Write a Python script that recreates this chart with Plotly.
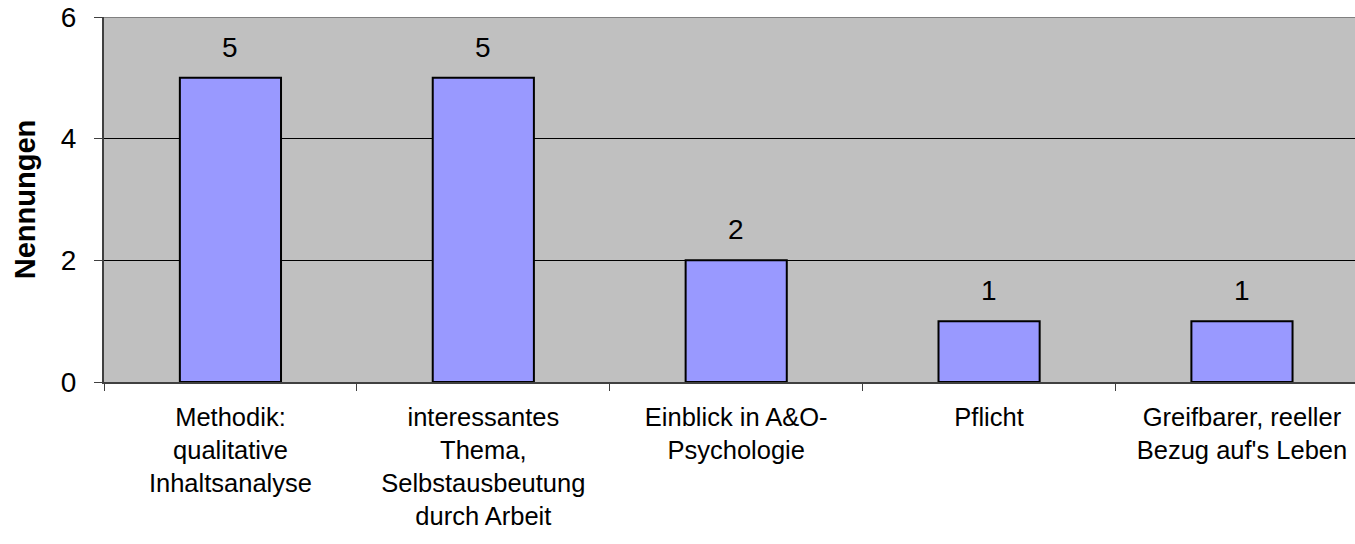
import plotly.graph_objects as go

categories = ["Methodik:<br>qualitative<br>Inhaltsanalyse",
              "interessantes<br>Thema,<br>Selbstausbeutung<br>durch Arbeit",
              "Einblick in A&O-<br>Psychologie",
              "Pflicht",
              "Greifbarer, reeller<br>Bezug auf's Leben"]
values = [5, 5, 2, 1, 1]
y_ticks = [0, 2, 4, 6]
y_title = "Nennungen"

FONT = "Liberation Sans, Arial, sans-serif"
AXC = "#404040"

xs = list(range(len(categories)))
fig = go.Figure(go.Bar(
    x=xs, y=values,
    marker=dict(color="#9999FF", line=dict(color="black", width=2)),
    width=0.4, hoverinfo="skip",
))
for x, v in zip(xs, values):
    fig.add_annotation(x=x, y=v, text=str(v), showarrow=False, yanchor="bottom",
                       yshift=13, font=dict(size=28, color="black", family=FONT))

fig.update_layout(
    width=1355, height=544,
    margin=dict(l=104, r=0, t=17, b=162),
    paper_bgcolor="white", plot_bgcolor="#C0C0C0",
    font=dict(family=FONT, color="black"),
    showlegend=False,
)
fig.update_xaxes(
    range=[-0.5, 4.447],
    tickvals=xs, ticktext=categories,
    tickfont=dict(size=25.5), ticks="outside", ticklen=11, tickcolor="rgba(0,0,0,0)",
    showgrid=False, showline=True, linecolor=AXC, linewidth=2,
    ticklabeloverflow="allow",
)
# boundary ticks on an overlaid axis
boundaries = [-0.5, 0.5, 1.5, 2.5, 3.5]
fig.add_trace(go.Scatter(x=boundaries, y=[0]*len(boundaries), xaxis="x2", yaxis="y",
                         mode="markers", marker=dict(opacity=0), hoverinfo="skip"))
fig.update_layout(xaxis2=dict(overlaying="x", side="bottom", range=[-0.5, 4.447], tickvals=boundaries,
                              showticklabels=False, ticks="outside", ticklen=8, tickcolor=AXC, tickwidth=1,
                              showgrid=False, showline=False, zeroline=False))
fig.update_yaxes(
    range=[0, 6], tickvals=y_ticks, tickfont=dict(size=28),
    ticks="outside", ticklen=8, tickcolor=AXC, ticklabelstandoff=12,
    ticklabeloverflow="allow",
    showgrid=True, gridcolor="black", gridwidth=1, zeroline=False,
    showline=True, linecolor=AXC, linewidth=2,
    title=dict(text="<b>" + y_title + "</b>", font=dict(size=29), standoff=17),
)
fig.add_shape(type="line", xref="paper", yref="y", x0=0, x1=1, y0=6, y1=6,
              line=dict(color="#808080", width=2))
fig.write_html("out.html", config={"displayModeBar": False},
               post_script="document.body.style.margin='0';")
